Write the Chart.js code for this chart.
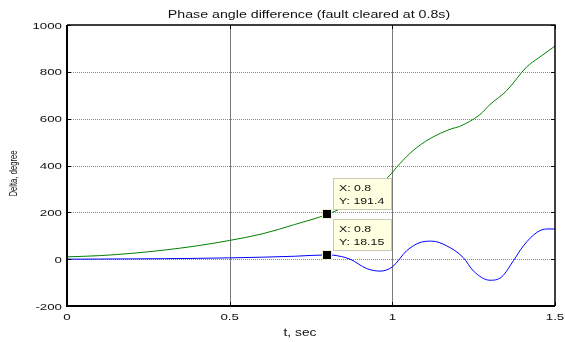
<!DOCTYPE html>
<html><head><meta charset="utf-8">
<script src="https://cdn.jsdelivr.net/npm/chart.js@4"></script>
<style>html,body{margin:0;padding:0;background:#fff}canvas{display:block}</style>
</head><body>
<canvas id="c" width="565" height="342"></canvas>
<script>
const titleText = "Phase angle difference (fault cleared at 0.8s)";
const xLabel = "t, sec";
const yLabel = "Delta, degree";
const xTicks = [0, 0.5, 1, 1.5];
const xTickLabels = ["0", "0.5", "1", "1.5"];
const yTicks = [-200, 0, 200, 400, 600, 800, 1000];
const yTickLabels = ["-200", "0", "200", "400", "600", "800", "1000"];

const greenT = [0, 0.1, 0.2, 0.3, 0.4, 0.5, 0.6, 0.7, 0.8, 0.85, 0.9, 0.95, 0.987, 1.0226, 1.064, 1.115, 1.182, 1.207, 1.269, 1.3, 1.351, 1.413, 1.45, 1.5];
const greenY = [10, 15, 25, 39, 57, 80, 108, 148, 191.4, 222, 260, 305, 350, 407, 464, 514, 557, 567, 617, 660, 719, 821, 860, 910];

const blueT = [0, 0.1, 0.2, 0.3, 0.4, 0.5, 0.6, 0.7, 0.8, 0.819, 0.87, 0.921, 0.962, 1.0, 1.044, 1.085, 1.121, 1.167, 1.218, 1.249, 1.3, 1.336, 1.372, 1.403, 1.444, 1.475, 1.5];
const blueY = [0, 0.5, 1.2, 2, 3.5, 5.5, 8.5, 12.5, 18.15, 17, 0, -40, -51, -33, 36, 71, 77, 57, 7, -50, -90, -76, -7, 57, 114, 129, 129];

const tipX = [0.8, 0.8];
const tipY = [191.4, 18.15];
const tipLabels = [["X: 0.8", "Y: 191.4"], ["X: 0.8", "Y: 18.15"]];

const FONT = "'Liberation Sans', Arial, Helvetica, sans-serif";
const TEXT = '#111';

const toPts = (ts, vs) => ts.map((t, i) => ({x: t, y: vs[i]}));

// draw horizontally stretched text (the reference picture is stretched sideways)
function stext(ctx, s, x, y, size, sx, align, baseline) {
  ctx.save();
  ctx.translate(x, y);
  ctx.scale(sx, 1);
  ctx.font = size + 'px ' + FONT;
  ctx.fillStyle = TEXT;
  ctx.textAlign = align;
  ctx.textBaseline = baseline;
  ctx.fillText(s, 0, 0);
  ctx.restore();
}

const matlabPlugin = {
  id: 'matlab',
  beforeDatasetsDraw(chart) {
    const {ctx, chartArea: a, scales: {x, y}} = chart;
    ctx.save();
    ctx.strokeStyle = '#8a8a8a';
    ctx.lineWidth = 1;
    ctx.setLineDash([1, 1]);
    yTicks.forEach(v => {
      const py = Math.round(y.getPixelForValue(v)) + 0.5;
      if (py <= a.top + 1 || py >= a.bottom - 1) return;
      ctx.beginPath(); ctx.moveTo(a.left, py); ctx.lineTo(a.right, py); ctx.stroke();
    });
    ctx.setLineDash([]);
    ctx.strokeStyle = '#7a7a7a';
    xTicks.forEach(v => {
      const px = Math.round(x.getPixelForValue(v)) + 0.5;
      if (px <= a.left + 1 || px >= a.right - 1) return;
      ctx.beginPath(); ctx.moveTo(px, a.top); ctx.lineTo(px, a.bottom); ctx.stroke();
    });
    ctx.restore();
  },
  afterDatasetsDraw(chart) {
    const {ctx, chartArea: a, scales: {x, y}} = chart;
    ctx.save();
    ctx.strokeStyle = '#000';
    ctx.lineWidth = 2;
    ctx.beginPath();
    ctx.moveTo(a.left, a.top); ctx.lineTo(a.left, a.bottom); ctx.lineTo(a.right, a.bottom);
    ctx.stroke();
    ctx.lineWidth = 1.5;
    ctx.beginPath();
    ctx.moveTo(a.left, a.top); ctx.lineTo(a.right, a.top); ctx.lineTo(a.right, a.bottom);
    ctx.stroke();
    ctx.lineWidth = 1;
    const tl = 4;
    yTicks.forEach(v => {
      const py = Math.round(y.getPixelForValue(v)) + 0.5;
      ctx.beginPath();
      ctx.moveTo(a.left, py); ctx.lineTo(a.left + tl, py);
      ctx.moveTo(a.right, py); ctx.lineTo(a.right - tl, py);
      ctx.stroke();
    });
    xTicks.forEach(v => {
      const px = Math.round(x.getPixelForValue(v)) + 0.5;
      ctx.beginPath();
      ctx.moveTo(px, a.bottom); ctx.lineTo(px, a.bottom - tl);
      ctx.moveTo(px, a.top); ctx.lineTo(px, a.top + tl);
      ctx.stroke();
    });
    ctx.restore();

    // tick labels
    yTicks.forEach((v, i) => {
      stext(ctx, yTickLabels[i], a.left - 5, y.getPixelForValue(v) + 3.5, 9.5, 1.4, 'right', 'alphabetic');
    });
    xTicks.forEach((v, i) => {
      stext(ctx, xTickLabels[i], x.getPixelForValue(v), a.bottom + 14, 9.5, 1.4, 'center', 'alphabetic');
    });
    // title & axis labels
    stext(ctx, titleText, (a.left + a.right) / 2 - 2, 18, 10, 1.42, 'center', 'alphabetic');
    stext(ctx, xLabel, (a.left + a.right) / 2 - 11, 336, 10, 1.38, 'center', 'alphabetic');
    ctx.save();
    ctx.translate(13.5, (a.top + a.bottom) / 2 + 8);
    ctx.rotate(-Math.PI / 2);
    ctx.scale(0.96, 1.4);
    ctx.font = '8px ' + FONT;
    ctx.fillStyle = TEXT;
    ctx.textAlign = 'center';
    ctx.textBaseline = 'middle';
    ctx.fillText(yLabel, 0, 0);
    ctx.restore();

    // data tips
    ctx.save();
    tipX.forEach((tx, i) => {
      const px = Math.round(x.getPixelForValue(tx));
      const py = Math.round(y.getPixelForValue(tipY[i]));
      const bx = px + 6, by = py - 36, bw = 59, bh = 32;
      ctx.fillStyle = '#ffffe1';
      ctx.fillRect(bx, by, bw, bh);
      ctx.strokeStyle = '#c8c8b4';
      ctx.lineWidth = 1;
      ctx.strokeRect(bx + 0.5, by + 0.5, bw - 1, bh - 1);
      stext(ctx, tipLabels[i][0], bx + 6, by + 11, 8.5, 1.45, 'left', 'middle');
      stext(ctx, tipLabels[i][1], bx + 6, by + 24, 8.5, 1.45, 'left', 'middle');
    });
    tipX.forEach((tx, i) => {
      const px = Math.round(x.getPixelForValue(tx));
      const py = Math.round(y.getPixelForValue(tipY[i]));
      ctx.fillStyle = '#f2f0c8';
      ctx.fillRect(px - 5, py - 5, 10, 10);
      ctx.fillStyle = '#000';
      ctx.fillRect(px - 4, py - 4, 8, 8);
    });
    ctx.restore();
  }
};

new Chart(document.getElementById('c'), {
  type: 'line',
  data: {
    datasets: [
      {data: toPts(blueT, blueY), borderColor: '#0000ff', borderWidth: 1, pointRadius: 0, cubicInterpolationMode: 'monotone', fill: false},
      {data: toPts(greenT, greenY), borderColor: '#008000', borderWidth: 1, pointRadius: 0, cubicInterpolationMode: 'monotone', fill: false}
    ]
  },
  options: {
    responsive: false,
    animation: false,
    devicePixelRatio: 1,
    layout: {padding: {left: 67, right: 10, top: 25, bottom: 36}},
    plugins: {
      legend: {display: false},
      tooltip: {enabled: false},
      title: {display: false}
    },
    scales: {
      x: {type: 'linear', min: 0, max: 1.5, display: false},
      y: {type: 'linear', min: -200, max: 1000, display: false}
    }
  },
  plugins: [matlabPlugin]
});
</script>
</body></html>
